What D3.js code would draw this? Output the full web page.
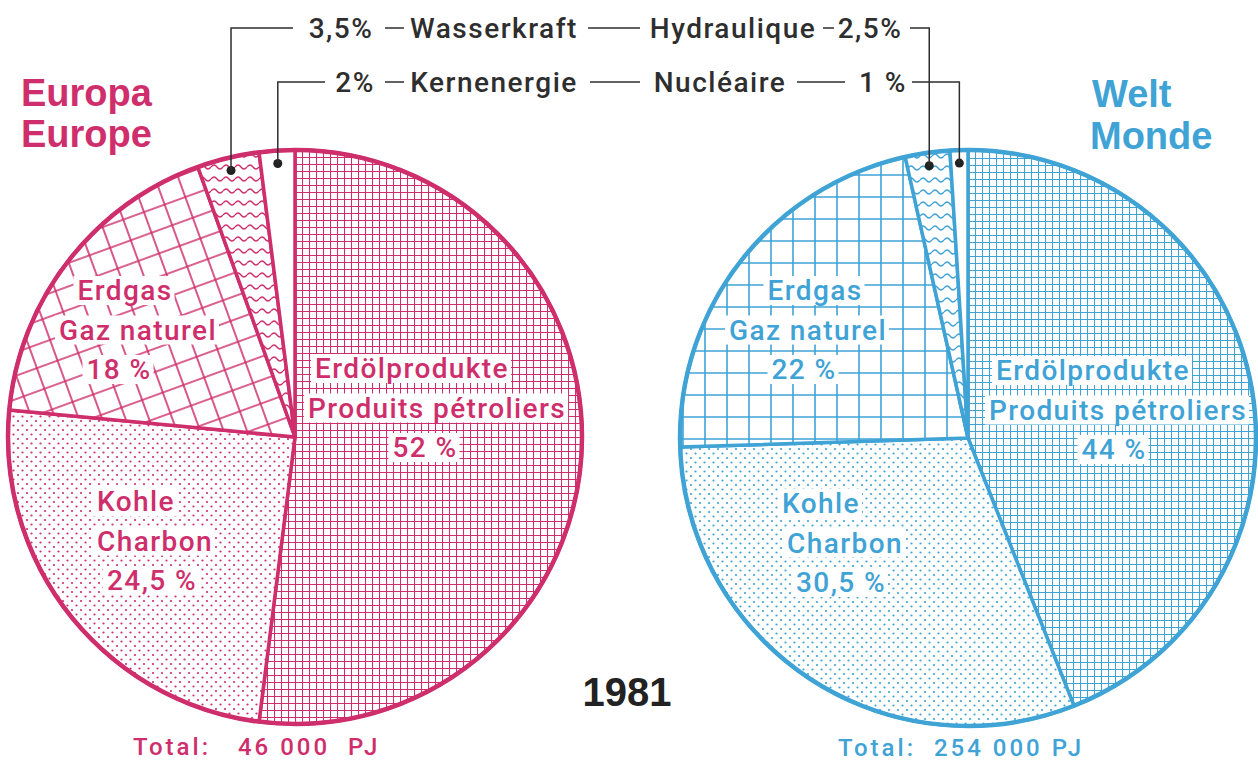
<!DOCTYPE html>
<html><head><meta charset="utf-8">
<script src="https://cdn.jsdelivr.net/npm/d3@7"></script>
<style>body{margin:0;background:#fff}svg{display:block}</style>
</head><body>
<svg id="c" width="1258" height="763"></svg>
<script>
// ---- data ----
const categories = ["oil","coal","gas","hydro","nuclear"];
const labelsDE = ["Erdölprodukte","Kohle","Erdgas","Wasserkraft","Kernenergie"];
const labelsFR = ["Produits pétroliers","Charbon","Gaz naturel","Hydraulique","Nucléaire"];
const europeValues = [52, 24.5, 18, 3.5, 2];
const worldValues  = [44, 30.5, 22, 2.5, 1];
const europeText   = ["52 %", "24,5 %", "18 %", "3,5%", "2%"];
const worldText    = ["44 %", "30,5 %", "22 %", "2,5%", "1 %"];
const totals = ["Total:   46 000  PJ", "Total:  254 000 PJ"];
const year = "1981";

const svg = d3.select("#c");
const defs = svg.append("defs");
const MAG = "#cf2e6c", BLU = "#3fa3d6";

function makePatterns(id, col, gasRot){
  let p = defs.append("pattern").attr("id",id+"-oil").attr("patternUnits","userSpaceOnUse").attr("width",7).attr("height",7);
  p.append("rect").attr("width",7).attr("height",7).attr("fill","#fff");
  p.append("path").attr("d","M0,0.5H7M0.5,0V7").attr("stroke",col).attr("stroke-width",1.1);
  p = defs.append("pattern").attr("id",id+"-coal").attr("patternUnits","userSpaceOnUse").attr("width",9).attr("height",9);
  p.append("rect").attr("width",9).attr("height",9).attr("fill","#fff");
  p.append("circle").attr("cx",2).attr("cy",2).attr("r",1.1).attr("fill",col);
  p.append("circle").attr("cx",6.5).attr("cy",6.5).attr("r",1.1).attr("fill",col);
  p = defs.append("pattern").attr("id",id+"-gas").attr("patternUnits","userSpaceOnUse").attr("width",22).attr("height",22)
      .attr("patternTransform","rotate("+gasRot+")");
  p.append("rect").attr("width",22).attr("height",22).attr("fill","#fff");
  p.append("path").attr("d","M0,1H22M1,0V22").attr("stroke",col).attr("stroke-width",1.6);
  p = defs.append("pattern").attr("id",id+"-hydro").attr("patternUnits","userSpaceOnUse").attr("width",12).attr("height",12);
  p.append("rect").attr("width",12).attr("height",12).attr("fill","#fff");
  p.append("path").attr("d","M0,6 Q3,2 6,6 T12,6").attr("fill","none").attr("stroke",col).attr("stroke-width",1.3);
  p = defs.append("pattern").attr("id",id+"-nuclear").attr("patternUnits","userSpaceOnUse").attr("width",10).attr("height",10);
  p.append("rect").attr("width",10).attr("height",10).attr("fill","#fff");
}
makePatterns("eu", MAG, -20);
makePatterns("w", BLU, 0);

const pie = d3.pie().sort(null).value(d=>d).startAngle(0).endAngle(2*Math.PI);

// label layout relative to pie centre: [x of each of 3 lines], y of middle line  (oil, coal, gas)
const labelLayout = {
  eu: [[[117,142,130],-29],[[-159,-140,-143],104],[[-170,-157,-176],-107]],
  w:  [[[125,150,146],-28],[[-147,-123,-127],105],[[-153,-160,-164],-108]]
};

function drawPie(id, values, texts, cx, cy, R, col){
  const g = svg.append("g").attr("transform",`translate(${cx},${cy})`);
  const arcs = pie(values);
  const arc = d3.arc().innerRadius(0).outerRadius(R);
  g.selectAll("path.s").data(arcs).join("path").attr("class","s")
    .attr("d",arc).attr("fill",(d,i)=>`url(#${id}-${categories[i]})`)
    .attr("stroke",col).attr("stroke-width",3.5).attr("stroke-linejoin","round");
  g.append("circle").attr("r",R).attr("fill","none").attr("stroke",col).attr("stroke-width",4.5);
  const lh = 39.5;
  [0,1,2].forEach(i=>{
    const [xs,dy] = labelLayout[id][i];
    const lines = [labelsDE[i], labelsFR[i], texts[i]];
    lines.forEach((s,j)=>{
      const y = dy + (j-1)*lh;
      const tx = g.append("text").attr("x",xs[j]).attr("y",y).attr("text-anchor","middle")
        .attr("dominant-baseline","central").attr("fill",col)
        .attr("font-family","Roboto, 'DejaVu Sans', sans-serif").attr("font-size",28).attr("font-weight",500)
        .attr("letter-spacing",1.4).text(s);
      const bb = tx.node().getBBox();
      g.insert("rect", "text").attr("x",bb.x-4).attr("y",bb.y+2).attr("width",bb.width+6).attr("height",bb.height-4).attr("fill","#fff");
    });
  });
  const dotArc = d3.arc().innerRadius(R*0.955).outerRadius(R*0.955);
  return [3,4].map(i=>{
    const c = dotArc.centroid(arcs[i]);
    g.append("circle").attr("cx",c[0]).attr("cy",c[1]).attr("r",4.5).attr("fill","#222");
    return [c[0]+cx, c[1]+cy];
  });
}

const euPts = drawPie("eu", europeValues, europeText, 295, 437, 287, MAG);
const wPts  = drawPie("w", worldValues, worldText, 968, 438, 288, BLU);

const TXT = "#2e2e2e";
const rowY = [28, 82];
const topG = svg.append("g").attr("font-family","Roboto, 'DejaVu Sans', sans-serif").attr("font-size",28)
  .attr("font-weight",500).attr("letter-spacing",1.5).attr("fill",TXT);
function addT(x,y,s,anchor){ topG.append("text").attr("x",x).attr("y",y).attr("text-anchor",anchor||"start").attr("dominant-baseline","central").text(s); }
function addL(pts){ topG.append("path").attr("d",d3.line()(pts)).attr("fill","none").attr("stroke",TXT).attr("stroke-width",1.5); }

addT(341, rowY[0], europeText[3], "middle");
addT(494, rowY[0], labelsDE[3], "middle");
addT(733, rowY[0], labelsFR[3], "middle");
addT(870, rowY[0], worldText[3], "middle");
addL([[euPts[0][0], euPts[0][1]],[euPts[0][0], rowY[0]],[293, rowY[0]]]);
addL([[385, rowY[0]],[404, rowY[0]]]);
addL([[588, rowY[0]],[640, rowY[0]]]);
addL([[823, rowY[0]],[834, rowY[0]]]);
addL([[910, rowY[0]],[wPts[0][0], rowY[0]],[wPts[0][0], wPts[0][1]]]);
addT(355, rowY[1], europeText[4], "middle");
addT(494, rowY[1], labelsDE[4], "middle");
addT(720, rowY[1], labelsFR[4], "middle");
addT(883, rowY[1], worldText[4], "middle");
addL([[euPts[1][0], euPts[1][1]],[euPts[1][0], rowY[1]],[325, rowY[1]]]);
addL([[385, rowY[1]],[404, rowY[1]]]);
addL([[590, rowY[1]],[640, rowY[1]]]);
addL([[797, rowY[1]],[845, rowY[1]]]);
addL([[912, rowY[1]],[wPts[1][0], rowY[1]],[wPts[1][0], wPts[1][1]]]);

const ttl = svg.append("g").attr("font-family","'Liberation Sans', Arial, sans-serif").attr("font-weight","bold").attr("font-size",38);
ttl.append("text").attr("x",21).attr("y",106).attr("fill",MAG).text("Europa");
ttl.append("text").attr("x",21).attr("y",147).attr("fill",MAG).text("Europe");
ttl.append("text").attr("x",1092).attr("y",107).attr("fill",BLU).text("Welt");
ttl.append("text").attr("x",1090).attr("y",149).attr("fill",BLU).text("Monde");

svg.append("text").attr("x",133).attr("y",755).attr("fill",MAG).attr("font-family","Roboto, sans-serif")
  .attr("font-size",24).attr("font-weight",500).attr("letter-spacing",3).style("white-space","pre").text(totals[0]);
svg.append("text").attr("x",838).attr("y",756).attr("fill",BLU).attr("font-family","Roboto, sans-serif")
  .attr("font-size",24).attr("font-weight",500).attr("letter-spacing",3).style("white-space","pre").text(totals[1]);

svg.append("text").attr("x",627).attr("y",706).attr("text-anchor","middle").attr("fill","#222")
  .attr("font-family","'Liberation Sans', Arial, sans-serif").attr("font-weight","bold").attr("font-size",40).text(year);
</script>
</body></html>
